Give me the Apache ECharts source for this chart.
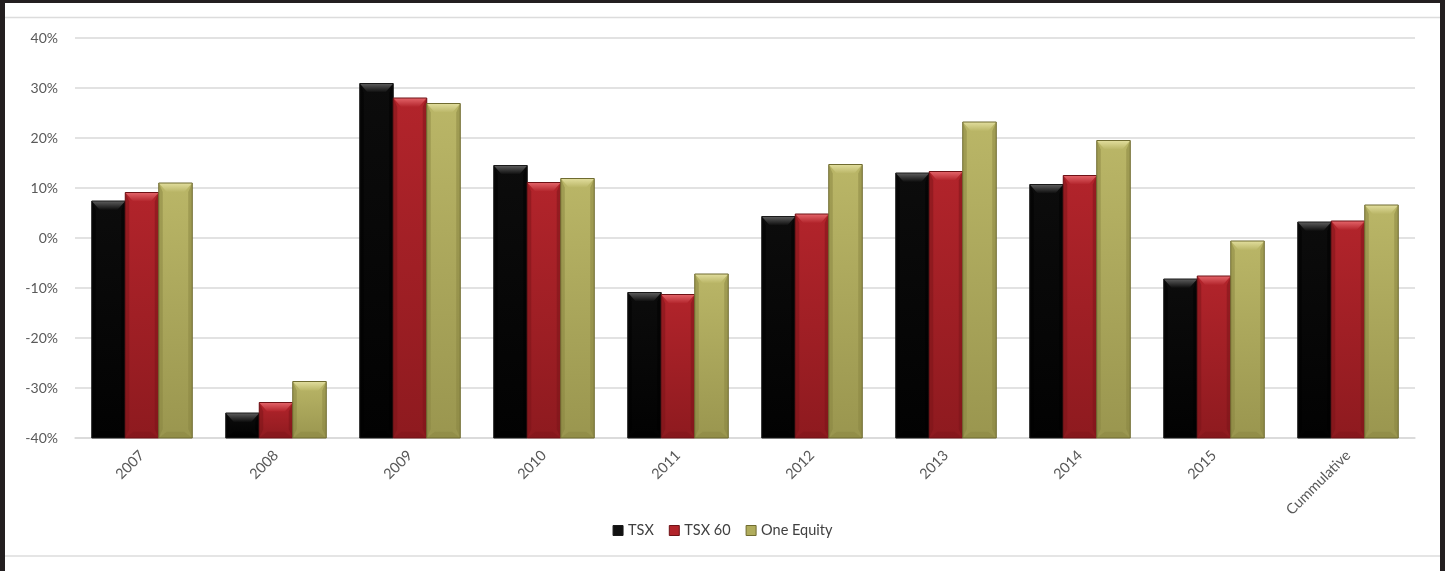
<!DOCTYPE html>
<html>
<head>
<meta charset="utf-8">
<title>TSX vs TSX 60 vs One Equity</title>
<script src="https://cdn.jsdelivr.net/npm/echarts@6/dist/echarts.min.js"></script>
<style>
  html, body { margin: 0; padding: 0; background: #ffffff; }
  #chart { width: 1445px; height: 571px; }
</style>
</head>
<body>
<div id="chart"></div>
<script>
// Annual returns (%) by year, plus the cumulative figure
const categories = ['2007', '2008', '2009', '2010', '2011', '2012', '2013', '2014', '2015', 'Cummulative'];
const seriesNames = ['TSX', 'TSX 60', 'One Equity'];
const tsx       = [7.4, -35.0, 30.9, 14.5, -10.9, 4.3, 13.0, 10.7, -8.2, 3.2];
const tsx60     = [9.1, -32.9, 28.0, 11.1, -11.3, 4.8, 13.3, 12.5, -7.6, 3.4];
const oneEquity = [11.0, -28.7, 26.9, 11.9, -7.2, 14.7, 23.2, 19.5, -0.6, 6.6];
const yTicks = [-40, -30, -20, -10, 0, 10, 20, 30, 40];

const Y_MIN = yTicks[0];
const Y_MAX = yTicks[yTicks.length - 1];
const Y_STEP = yTicks[1] - yTicks[0];

// Bevelled bar looks for each series
const palettes = [
  { main: '#0c0c0c', dark: '#020202', light: '#5e5e5e', edge: '#000000', stroke: '#1a1a1a', legend: '#111111' },
  { main: '#b2242b', dark: '#8e1a1f', light: '#e4656a', edge: '#7a1418', stroke: '#6e1216', legend: '#b2242b' },
  { main: '#bab667', dark: '#9a964f', light: '#e2de9e', edge: '#87833f', stroke: '#6f6b30', legend: '#b0ac5c' }
];

const BAR_SHARE = 0.25; // each bar takes a quarter of the category band

function barRenderer(k) {
  const p = palettes[k];
  return function (params, api) {
    const idx = api.value(0);
    const val = api.value(1);
    const top = api.coord([idx, val]);
    const base = api.coord([idx, Y_MIN]);
    const band = api.size([1, 0])[0];
    const w = band * BAR_SHARE;
    const x = top[0] - 1.5 * w + k * w;
    const yTop = top[1];
    const yBot = base[1];
    const h = yBot - yTop;
    const bev = Math.min(9, h * 0.45);
    const inset = Math.min(8, w * 0.25);
    const side = 4;
    const LG = echarts.graphic.LinearGradient;
    return {
      type: 'group',
      children: [
        {
          type: 'rect',
          shape: { x: x, y: yTop, width: w, height: h },
          style: {
            fill: new LG(0, 0, 0, 1, [
              { offset: 0, color: p.main },
              { offset: 1, color: p.dark }
            ])
          }
        },
        {
          type: 'polygon',
          shape: { points: [[x, yTop], [x + side, yTop + bev], [x + side, yBot - bev], [x, yBot]] },
          style: { fill: p.edge, opacity: 0.5 }
        },
        {
          type: 'polygon',
          shape: { points: [[x + w, yTop], [x + w - side, yTop + bev], [x + w - side, yBot - bev], [x + w, yBot]] },
          style: { fill: p.edge, opacity: 0.5 }
        },
        {
          type: 'polygon',
          shape: { points: [[x, yBot], [x + inset, yBot - bev * 0.7], [x + w - inset, yBot - bev * 0.7], [x + w, yBot]] },
          style: { fill: p.edge, opacity: 0.4 }
        },
        {
          type: 'polygon',
          shape: { points: [[x, yTop], [x + w, yTop], [x + w - inset, yTop + bev], [x + inset, yTop + bev]] },
          style: {
            fill: new LG(0, 0, 0, 1, [
              { offset: 0, color: p.light },
              { offset: 1, color: p.main }
            ])
          }
        },
        {
          type: 'rect',
          shape: { x: x, y: yTop, width: w, height: h },
          style: { fill: 'none', stroke: p.stroke, lineWidth: 1 }
        }
      ]
    };
  };
}

const seriesData = [tsx, tsx60, oneEquity];

const chart = echarts.init(document.getElementById('chart'), null, { renderer: 'canvas' });

const textColor = '#595959';
const fontFamily = 'Lato, "Open Sans", sans-serif';

chart.setOption({
  backgroundColor: '#ffffff',
  animation: false,
  textStyle: { fontFamily: fontFamily },
  grid: { left: 75, right: 30, top: 38, height: 400, containLabel: false },
  legend: {
    left: 'center',
    top: 518,
    itemWidth: 10,
    itemHeight: 10,
    itemGap: 15,
    icon: 'rect',
    textStyle: { color: '#404040', fontSize: 14.5, fontFamily: fontFamily },
    data: seriesNames.map((n, k) => ({ name: n, itemStyle: { color: palettes[k].legend, borderColor: palettes[k].stroke, borderWidth: 1 } }))
  },
  xAxis: {
    type: 'category',
    data: categories,
    axisLine: { show: true, onZero: false, lineStyle: { color: '#d9d9d9', width: 1.5 } },
    axisTick: { show: false },
    axisLabel: { rotate: 45, margin: 15, color: textColor, fontSize: 14.5, fontFamily: fontFamily, interval: 0 },
    splitLine: { show: false }
  },
  yAxis: {
    type: 'value',
    min: Y_MIN,
    max: Y_MAX,
    interval: Y_STEP,
    axisLine: { show: false },
    axisTick: { show: false },
    axisLabel: { margin: 17, color: textColor, fontSize: 14, fontFamily: fontFamily, formatter: v => v + '%' },
    splitLine: { lineStyle: { color: '#d9d9d9', width: 1.5 } }
  },
  series: seriesNames.map((name, k) => ({
    name: name,
    type: 'custom',
    renderItem: barRenderer(k),
    itemStyle: { color: palettes[k].legend },
    encode: { x: 0, y: 1 },
    data: seriesData[k].map((v, i) => [i, v]),
    z: 2
  })),
  graphic: [
    { type: 'line', shape: { x1: 5, y1: 17.5, x2: 1440, y2: 17.5 }, style: { stroke: '#dcdcdc', lineWidth: 1.5 }, silent: true },
    { type: 'line', shape: { x1: 5, y1: 556, x2: 1440, y2: 556 }, style: { stroke: '#dcdcdc', lineWidth: 1.5 }, silent: true },
    { type: 'rect', shape: { x: 0, y: 0, width: 1445, height: 3 }, style: { fill: '#231f20' }, silent: true },
    { type: 'rect', shape: { x: 0, y: 0, width: 5, height: 571 }, style: { fill: '#231f20' }, silent: true },
    { type: 'rect', shape: { x: 1440, y: 0, width: 5, height: 571 }, style: { fill: '#231f20' }, silent: true }
  ]
});
</script>
</body>
</html>
